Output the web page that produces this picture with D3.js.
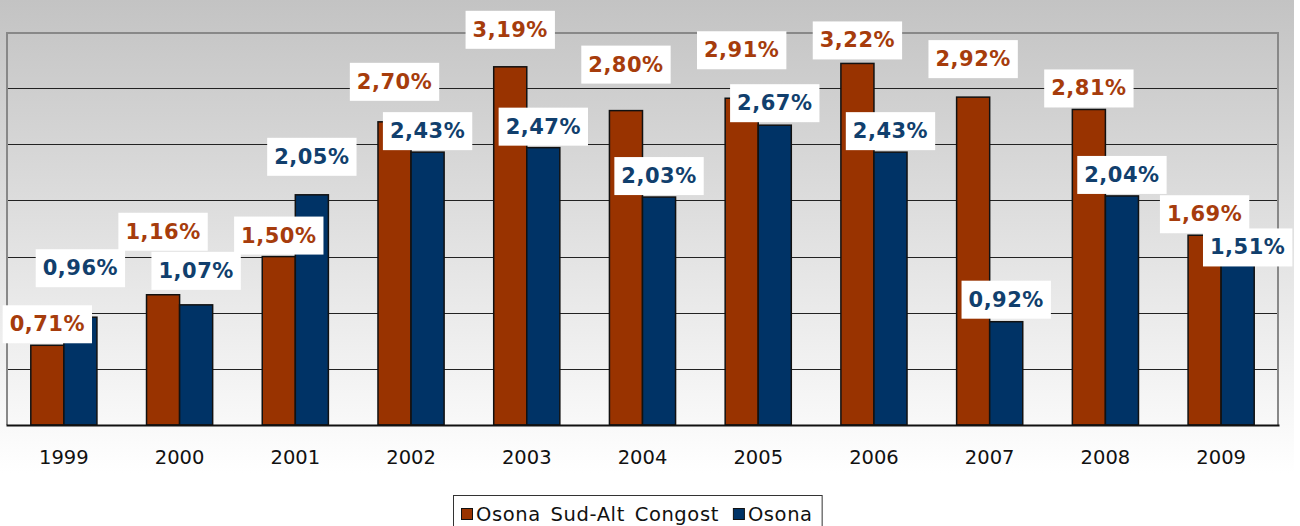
<!DOCTYPE html>
<html>
<head>
<meta charset="utf-8">
<script src="https://cdn.jsdelivr.net/npm/d3@7"></script>
<style>
  html, body { margin: 0; padding: 0; background: #fff; }
  svg { display: block; font-family: 'DejaVu Sans', Verdana, sans-serif; }
</style>
</head>
<body>
<script>
(function() {
  'use strict';

  const years = ['1999', '2000', '2001', '2002', '2003', '2004', '2005', '2006', '2007', '2008', '2009'];
  const seriesNames = ['Osona Sud-Alt Congost', 'Osona'];
  const sudAltCongost = [0.71, 1.16, 1.50, 2.70, 3.19, 2.80, 2.91, 3.22, 2.92, 2.81, 1.69];
  const osona = [0.96, 1.07, 2.05, 2.43, 2.47, 2.03, 2.67, 2.43, 0.92, 2.04, 1.51];
  const yTicks = [0, 0.5, 1, 1.5, 2, 2.5, 3, 3.5];

  // labels were hand-moved in the original to avoid overlaps (extra lift, px)
  const liftSud = [0, 42, 0, 19, 16, 25, 27, 2, 17, 0, 0];
  const liftOsona = [28, 13, 17, 0, 0, 0, 1, 0, 1, 0, -13];
  const shiftOsona = [0, 0, 0, 0, 0, 0, 0, 0, 0, 0, 10];

  const colors = ['#993300', '#003366'];
  const textColors = ['#a63c0c', '#113f6d'];

  const w = 1300;
  const h = 526;
  const plot = {left: 6, right: 1279, top: 32, bottom: 425};

  const svg = d3.select('body').append('svg')
    .attr('width', w)
    .attr('height', h);

  const defs = svg.append('defs');
  const grad = defs.append('linearGradient')
    .attr('id', 'bg')
    .attr('x1', 0).attr('y1', 0).attr('x2', 0).attr('y2', 1);
  grad.append('stop').attr('offset', '0%').attr('stop-color', '#c3c3c3');
  grad.append('stop').attr('offset', '90%').attr('stop-color', '#ffffff');

  svg.append('rect')
    .attr('x', 0).attr('y', 0)
    .attr('width', 1294).attr('height', h)
    .attr('fill', 'url(#bg)');

  const x0 = d3.scaleBand()
    .domain(years)
    .range([plot.left, plot.right]);

  const x1 = d3.scaleBand()
    .domain(seriesNames)
    .range([0, x0.bandwidth()])
    .paddingOuter(0.75);

  const y = d3.scaleLinear()
    .domain([0, 3.5])
    .range([plot.bottom, plot.top]);

  // gridlines
  svg.append('g')
    .selectAll('line')
    .data(yTicks.slice(1, -1))
    .enter()
    .append('line')
    .attr('x1', plot.left)
    .attr('x2', plot.right)
    .attr('y1', d => Math.round(y(d)) + 0.5)
    .attr('y2', d => Math.round(y(d)) + 0.5)
    .attr('stroke', '#222')
    .attr('stroke-width', 1);

  // plot frame (left, top, right)
  svg.append('path')
    .attr('d', 'M' + (plot.left + 1) + ',' + plot.bottom + 'V' + (plot.top + 1) +
      'H' + (plot.right - 1) + 'V' + plot.bottom)
    .attr('fill', 'none')
    .attr('stroke', '#888')
    .attr('stroke-width', 2);

  const rows = years.map((yr, i) => ({
    year: yr,
    values: [sudAltCongost[i], osona[i]],
    lift: [liftSud[i], liftOsona[i]],
    shift: [0, shiftOsona[i]]
  }));

  const groups = svg.append('g')
    .selectAll('g')
    .data(rows)
    .enter()
    .append('g')
    .attr('transform', d => 'translate(' + x0(d.year) + ',0)');

  groups.selectAll('rect')
    .data(d => d.values.map((v, k) => ({name: seriesNames[k], value: v, k: k})))
    .enter()
    .append('rect')
    .attr('x', d => x1(d.name))
    .attr('y', d => y(d.value))
    .attr('width', x1.bandwidth())
    .attr('height', d => y(0) - y(d.value))
    .attr('fill', d => colors[d.k])
    .attr('stroke', '#111')
    .attr('stroke-width', 1.5);

  // x axis
  const xAxis = d3.axisBottom(x0).tickSize(0).tickPadding(0);
  const xg = svg.append('g')
    .attr('transform', 'translate(0,' + plot.bottom + ')')
    .call(xAxis);
  xg.select('.domain').attr('stroke', '#111').attr('stroke-width', 2);
  xg.selectAll('text')
    .attr('y', 39)
    .attr('dy', null)
    .attr('font-size', 19.5)
    .attr('font-family', "'DejaVu Sans', Verdana, sans-serif")
    .attr('fill', '#111');

  // data labels
  const fmt = v => d3.format('.2f')(v).replace('.', ',') + '%';
  const labels = svg.append('g');
  rows.forEach(row => {
    row.values.forEach((v, k) => {
      const cx = x0(row.year) + x1(seriesNames[k]) + x1.bandwidth() / 2 + row.shift[k];
      const bottom = y(v) - 2 - row.lift[k];
      const g = labels.append('g');
      const box = g.append('rect').attr('fill', '#fff');
      const t = g.append('text')
        .attr('x', cx)
        .attr('y', bottom - 12)
        .attr('text-anchor', 'middle')
        .attr('font-size', 21)
        .attr('font-weight', 'bold')
        .attr('letter-spacing', 0.5)
        .attr('fill', textColors[k])
        .text(fmt(v));
      const tw = t.node().getComputedTextLength();
      box.attr('x', cx - tw / 2 - 7)
        .attr('y', bottom - 38)
        .attr('width', tw + 14)
        .attr('height', 38);
    });
  });

  // legend
  const legend = svg.append('g');
  const lbox = legend.append('rect')
    .attr('y', 495.5)
    .attr('height', 40)
    .attr('fill', '#fff')
    .attr('stroke', '#333')
    .attr('stroke-width', 1);
  let lx = 461;
  seriesNames.forEach((name, k) => {
    legend.append('rect')
      .attr('x', lx + 0.5)
      .attr('y', 508.5)
      .attr('width', 11)
      .attr('height', 11)
      .attr('fill', colors[k])
      .attr('stroke', '#111');
    const t = legend.append('text')
      .attr('x', lx + 15)
      .attr('y', 521)
      .attr('font-size', 19.5)
      .attr('letter-spacing', 0.6)
      .attr('word-spacing', 3)
      .attr('fill', '#111')
      .text(name);
    lx += 15 + t.node().getComputedTextLength() + 14;
  });
  lbox.attr('x', 453.5).attr('width', lx - 453 - 5);
}());
</script>
</body>
</html>
